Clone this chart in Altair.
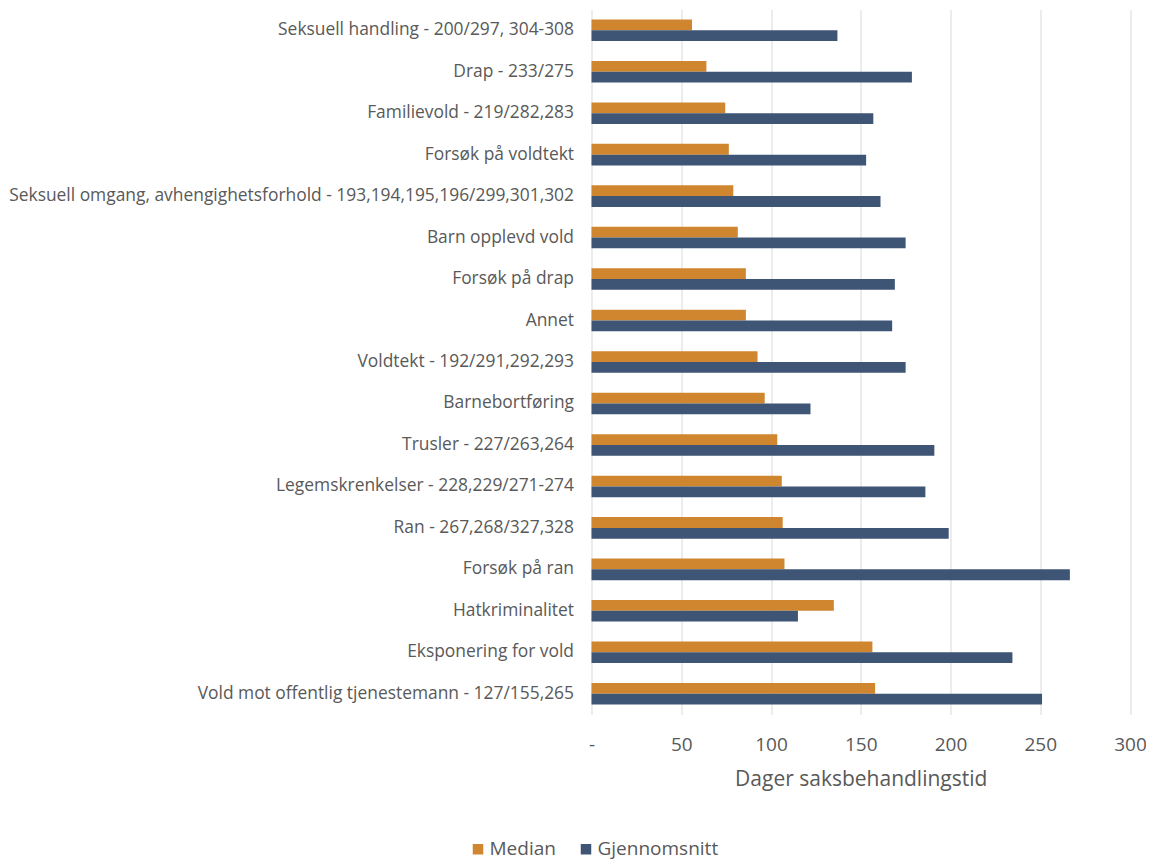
import altair as alt
import pandas as pd

categories = [
    "Seksuell handling - 200/297, 304-308",
    "Drap - 233/275",
    "Familievold - 219/282,283",
    "Forsøk på voldtekt",
    "Seksuell omgang, avhengighetsforhold - 193,194,195,196/299,301,302",
    "Barn opplevd vold",
    "Forsøk på drap",
    "Annet",
    "Voldtekt - 192/291,292,293",
    "Barnebortføring",
    "Trusler - 227/263,264",
    "Legemskrenkelser - 228,229/271-274",
    "Ran - 267,268/327,328",
    "Forsøk på ran",
    "Hatkriminalitet",
    "Eksponering for vold",
    "Vold mot offentlig tjenestemann - 127/155,265",
]
median = [56, 64, 74.5, 76.5, 79, 81.5, 86, 86, 92.5, 96.5, 103.5, 106, 106.5, 107.5, 135, 156.5, 158]
gjennomsnitt = [137, 178.5, 157, 153, 161, 175, 169, 167.5, 175, 122, 191, 186, 199, 266.5, 115, 234.5, 251]
series = ["Median", "Gjennomsnitt"]
colors = ["#D0862E", "#3E5575"]
x_ticks = [0, 50, 100, 150, 200, 250, 300]

rows = []
for c, m, g in zip(categories, median, gjennomsnitt):
    rows.append({"kategori": c, "serie": "Median", "verdi": m})
    rows.append({"kategori": c, "serie": "Gjennomsnitt", "verdi": g})
df = pd.DataFrame(rows)

FONT = "Open Sans"
GREY = "#595959"

chart = alt.Chart(df).mark_bar().encode(
    y=alt.Y("kategori:N", sort=categories,
            scale=alt.Scale(paddingInner=0.48, paddingOuter=0.24),
            axis=alt.Axis(title=None, ticks=False, domain=False, labelPadding=18,
                          labelFont=FONT, labelFontSize=17.4, labelColor=GREY,
                          labelLimit=700)),
    yOffset=alt.YOffset("serie:N", sort=series, scale=alt.Scale(paddingInner=0)),
    x=alt.X("verdi:Q", scale=alt.Scale(domain=[0, 300], nice=False),
            axis=alt.Axis(values=x_ticks, title="Dager saksbehandlingstid",
                          labelExpr="datum.value == 0 ? '-' : datum.label",
                          labelFlush=False,
                          ticks=False, domain=False, grid=True, gridColor="#D9D9D9",
                          labelFont=FONT, labelFontSize=19, labelColor=GREY,
                          labelPadding=21, titleFont=FONT, titleFontSize=21,
                          titleColor=GREY, titleFontWeight="normal", titlePadding=14)),
    color=alt.Color("serie:N", sort=series,
                    scale=alt.Scale(domain=series, range=colors),
                    legend=alt.Legend(title=None, orient="none", direction="horizontal",
                                      legendX=-123, legendY=830,
                                      symbolType="square", symbolSize=110,
                                      symbolStrokeWidth=0,
                                      labelFont=FONT, labelFontSize=19, labelColor=GREY,
                                      columnPadding=20, labelOffset=2)),
).properties(
    width=538.5, height=705,
    autosize=alt.AutoSizeParams(type="none"),
    padding={"left": 583.5, "top": 1.5, "right": 16, "bottom": 148},
).configure_view(stroke=None)

chart.save("out.html", embed_options={"renderer": "svg", "actions": False})
